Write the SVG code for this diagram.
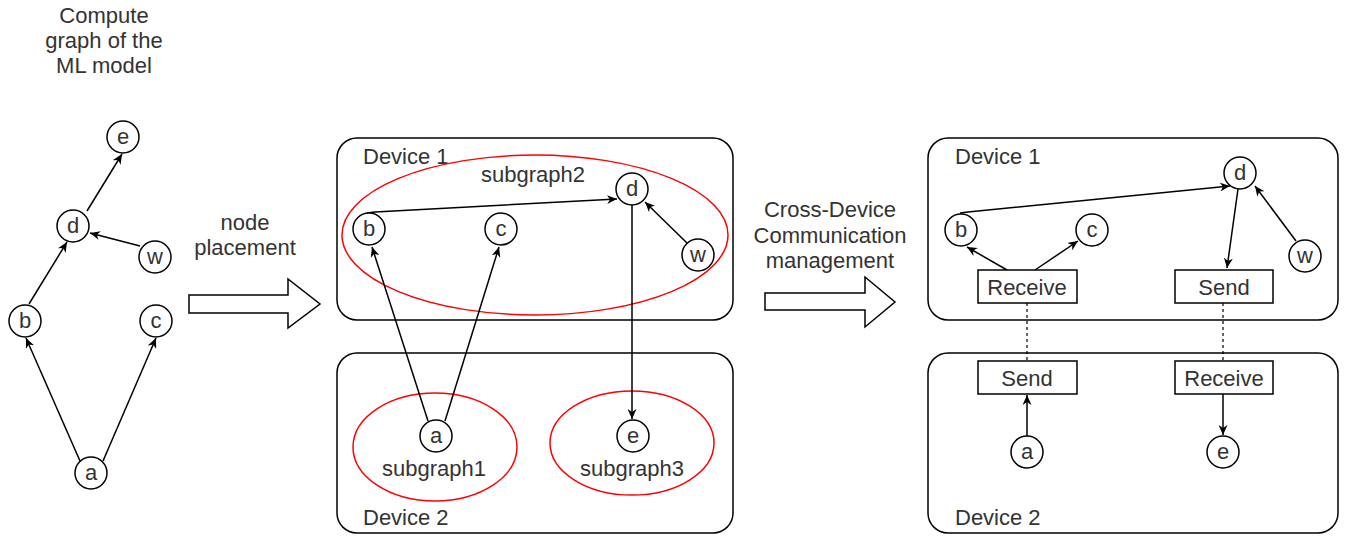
<svg xmlns="http://www.w3.org/2000/svg" width="1349" height="536" viewBox="0 0 1349 536">
  <style>
    text { font-family: "Liberation Sans", Arial, sans-serif; font-size: 22px; fill: #333; }
    .mid { text-anchor: middle; }
    .node { fill: #fff; stroke: #000; stroke-width: 1.5; }
    .dev { fill: #fff; stroke: #000; stroke-width: 1.5; }
    .sub { fill: none; stroke: #ff0000; stroke-width: 1.5; }
    .box { fill: #fff; stroke: #000; stroke-width: 1.5; }
    .edge { fill: none; stroke: #000; stroke-width: 1.5; marker-end: url(#arrow); }
    .link { fill: none; stroke: #000; stroke-width: 1.2; stroke-dasharray: 3 3; }
    .block { fill: #fff; stroke: #000; stroke-width: 1.5; }
  </style>
  <defs>
    <marker id="arrow" viewBox="0 0 10 9" markerWidth="10" markerHeight="9" refX="10" refY="4.5" orient="auto" markerUnits="userSpaceOnUse">
      <path d="M0,0 L10,4.5 L0,9 L3,4.5 Z" fill="#000"/>
    </marker>
  </defs>

  <rect width="1349" height="536" fill="#fff"/>

  <!-- Left: compute graph -->
  <g id="title">
    <text class="mid" x="104" y="23">Compute</text>
    <text class="mid" x="104" y="48">graph of the</text>
    <text class="mid" x="104" y="73">ML model</text>
  </g>

  <!-- Middle and right device containers -->
  <g id="mid-device1"><rect class="dev" x="337" y="138" width="396" height="182" rx="20"/><text x="363" y="164">Device 1</text></g>
  <g id="mid-device2"><rect class="dev" x="337" y="353" width="396" height="180" rx="20"/><text x="363" y="525">Device 2</text></g>
  <g id="right-device1"><rect class="dev" x="928" y="138" width="410" height="182" rx="20"/><text x="955" y="164">Device 1</text></g>
  <g id="right-device2"><rect class="dev" x="928" y="353" width="410" height="180" rx="20"/><text x="955" y="525">Device 2</text></g>

  <!-- Subgraph partitions -->
  <g id="subgraph2"><ellipse class="sub" cx="535" cy="235" rx="193" ry="80"/><text class="mid" x="533" y="182">subgraph2</text></g>
  <g id="subgraph1"><ellipse class="sub" cx="435" cy="447" rx="82" ry="54"/><text class="mid" x="434" y="476">subgraph1</text></g>
  <g id="subgraph3"><ellipse class="sub" cx="632" cy="443" rx="82" ry="52"/><text class="mid" x="632" y="476">subgraph3</text></g>

  <!-- Block arrows and captions -->
  <g id="placement-arrow">
    <polygon class="block" points="189,295 288,295 288,279 320,304 288,328 288,313 189,313"/>
    <text class="mid" x="245" y="230">node</text>
    <text class="mid" x="245" y="255">placement</text>
  </g>
  <g id="comm-arrow">
    <polygon class="block" points="765,293 865,293 865,277 895,302 865,327 865,310 765,310"/>
    <text class="mid" x="830" y="217">Cross-Device</text>
    <text class="mid" x="830" y="243">Communication</text>
    <text class="mid" x="830" y="268">management</text>
  </g>

  <!-- Connectors -->
  <g id="connectors">
    <!-- left graph -->
    <line class="edge" x1="87" y1="211" x2="122" y2="154"/>
    <line class="edge" x1="140" y1="246" x2="90" y2="233"/>
    <line class="edge" x1="29" y1="304" x2="67" y2="242"/>
    <line class="edge" x1="80" y1="461" x2="26" y2="338"/>
    <line class="edge" x1="103" y1="461" x2="156" y2="338"/>
    <!-- middle graph -->
    <polyline class="edge" points="367,213 375,212 617,199"/>
    <line class="edge" x1="687" y1="243" x2="645" y2="202"/>
    <line class="edge" x1="632" y1="205" x2="632" y2="419"/>
    <line class="edge" x1="428" y1="421" x2="372" y2="247"/>
    <line class="edge" x1="445" y1="421" x2="499" y2="247"/>
    <!-- right graph -->
    <polyline class="edge" points="960,213 968,212 1230,186"/>
    <line class="edge" x1="1238" y1="189" x2="1227" y2="268"/>
    <line class="edge" x1="1296" y1="241" x2="1255" y2="186"/>
    <line class="edge" x1="1007" y1="270" x2="967" y2="247"/>
    <line class="edge" x1="1035" y1="270" x2="1078" y2="241"/>
    <line class="edge" x1="1027" y1="436" x2="1027" y2="395"/>
    <line class="edge" x1="1223" y1="394" x2="1223" y2="435"/>
    <!-- cross-device links -->
    <line class="link" x1="1027" y1="303" x2="1027" y2="361"/>
    <line class="link" x1="1223" y1="303" x2="1223" y2="361"/>
  </g>

  <!-- Left graph nodes -->
  <g id="l-e"><circle class="node" cx="123" cy="137" r="16"/><text class="mid" x="123" y="144">e</text></g>
  <g id="l-d"><circle class="node" cx="73" cy="226" r="16"/><text class="mid" x="73" y="233">d</text></g>
  <g id="l-w"><circle class="node" cx="155" cy="257" r="16"/><text class="mid" x="155" y="264">w</text></g>
  <g id="l-b"><circle class="node" cx="25" cy="321" r="16"/><text class="mid" x="25" y="328">b</text></g>
  <g id="l-c"><circle class="node" cx="156" cy="321" r="16"/><text class="mid" x="156" y="328">c</text></g>
  <g id="l-a"><circle class="node" cx="91" cy="473" r="16"/><text class="mid" x="91" y="480">a</text></g>

  <!-- Middle graph nodes -->
  <g id="m-d"><circle class="node" cx="632" cy="189" r="16"/><text class="mid" x="632" y="196">d</text></g>
  <g id="m-b"><circle class="node" cx="369" cy="229" r="16"/><text class="mid" x="369" y="236">b</text></g>
  <g id="m-c"><circle class="node" cx="501" cy="229" r="16"/><text class="mid" x="501" y="236">c</text></g>
  <g id="m-w"><circle class="node" cx="698" cy="255" r="16"/><text class="mid" x="698" y="262">w</text></g>
  <g id="m-a"><circle class="node" cx="436" cy="436" r="16"/><text class="mid" x="436" y="443">a</text></g>
  <g id="m-e"><circle class="node" cx="633" cy="436" r="16"/><text class="mid" x="633" y="443">e</text></g>

  <!-- Right graph nodes -->
  <g id="r-d"><circle class="node" cx="1240" cy="173" r="16"/><text class="mid" x="1240" y="180">d</text></g>
  <g id="r-b"><circle class="node" cx="961" cy="230" r="16"/><text class="mid" x="961" y="237">b</text></g>
  <g id="r-c"><circle class="node" cx="1092" cy="230" r="16"/><text class="mid" x="1092" y="237">c</text></g>
  <g id="r-w"><circle class="node" cx="1305" cy="256" r="16"/><text class="mid" x="1305" y="263">w</text></g>
  <g id="r-a"><circle class="node" cx="1027" cy="452" r="16"/><text class="mid" x="1027" y="459">a</text></g>
  <g id="r-e"><circle class="node" cx="1223" cy="452" r="16"/><text class="mid" x="1223" y="459">e</text></g>

  <!-- Communication operators -->
  <g id="r-receive1"><rect class="box" x="978" y="270" width="99" height="33"/><text class="mid" x="1027" y="295">Receive</text></g>
  <g id="r-send1"><rect class="box" x="1175" y="270" width="98" height="33"/><text class="mid" x="1224" y="295">Send</text></g>
  <g id="r-send2"><rect class="box" x="978" y="361" width="99" height="33"/><text class="mid" x="1027" y="386">Send</text></g>
  <g id="r-receive2"><rect class="box" x="1175" y="361" width="98" height="33"/><text class="mid" x="1224" y="386">Receive</text></g>
</svg>
